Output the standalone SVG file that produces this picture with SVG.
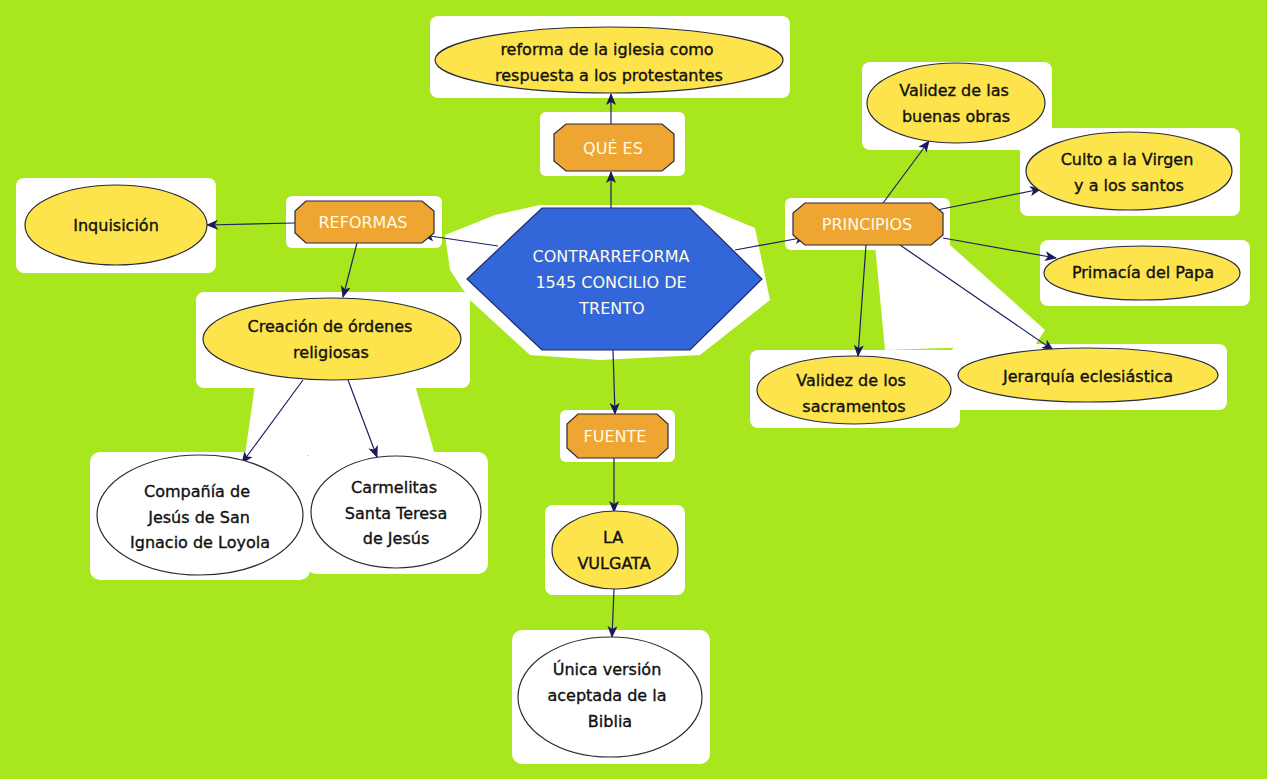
<svg xmlns="http://www.w3.org/2000/svg" width="1267" height="779" viewBox="0 0 1267 779">
<style>
.bg{fill:#a8e61e}
.halo{fill:#ffffff}
.yel{fill:#fde34c;stroke:#2a2a3a;stroke-width:1.2}
.wht{fill:#ffffff;stroke:#2a2a3a;stroke-width:1.2}
.oct{fill:#eea532;stroke:#2a2a3a;stroke-width:1.2}
.hex{fill:#3366d8;stroke:#1c2a6a;stroke-width:1.2}
.t{font-family:"DejaVu Sans",Verdana,sans-serif;font-size:16px;fill:#111;stroke:#111;stroke-width:0.35;text-anchor:middle;dominant-baseline:central}
.tw{font-family:"DejaVu Sans",Verdana,sans-serif;font-size:16px;fill:#fffbe6;text-anchor:middle;dominant-baseline:central}
.c{stroke:#1e2060;stroke-width:1.2;fill:none;marker-end:url(#ah)}
</style>
<defs>
<marker id="ah" markerWidth="12" markerHeight="10" refX="11" refY="5" orient="auto" markerUnits="userSpaceOnUse">
<path d="M0,0 L12,5 L0,10 L3,5 Z" fill="#1a1a5a"/>
</marker>
</defs>
<rect class="bg" x="0" y="0" width="1267" height="779"/>
<g id="halos">
<rect class="halo" x="430" y="16" width="360" height="82" rx="8"/>
<rect class="halo" x="540" y="112" width="145" height="64" rx="6"/>
<rect class="halo" x="16" y="178" width="200" height="95" rx="8"/>
<rect class="halo" x="286" y="196" width="156" height="52" rx="6"/>
<rect class="halo" x="196" y="292" width="274" height="96" rx="8"/>
<polygon class="halo" points="255,385 415,385 435,455 245,455"/>
<rect class="halo" x="90" y="452" width="220" height="128" rx="10"/>
<rect class="halo" x="306" y="452" width="182" height="122" rx="10"/>
<polygon class="halo" points="445,235 495,215 540,205 700,205 755,228 770,300 700,355 600,360 530,355 470,300 450,270"/>
<rect class="halo" x="560" y="410" width="115" height="52" rx="6"/>
<rect class="halo" x="545" y="505" width="140" height="90" rx="8"/>
<rect class="halo" x="512" y="630" width="198" height="134" rx="10"/>
<rect class="halo" x="785" y="198" width="165" height="52" rx="6"/>
<polygon class="halo" points="875,245 950,245 1045,330 1035,345 885,350"/>
<rect class="halo" x="862" y="62" width="190" height="88" rx="8"/>
<rect class="halo" x="1020" y="128" width="220" height="88" rx="8"/>
<rect class="halo" x="1040" y="240" width="210" height="66" rx="8"/>
<rect class="halo" x="750" y="350" width="210" height="78" rx="8"/>
<rect class="halo" x="952" y="344" width="275" height="66" rx="8"/>
</g>
<g id="connectors">
<line class="c" x1="611" y1="124" x2="611" y2="94"/>
<line class="c" x1="611" y1="208" x2="611" y2="172"/>
<line class="c" x1="295" y1="223" x2="207" y2="225"/>
<line class="c" x1="498" y1="246" x2="423" y2="235"/>
<line class="c" x1="357" y1="243" x2="343" y2="297"/>
<line class="c" x1="303" y1="380" x2="242" y2="463"/>
<line class="c" x1="348" y1="380" x2="377" y2="457"/>
<line class="c" x1="613" y1="350" x2="615" y2="414"/>
<line class="c" x1="614" y1="458" x2="614" y2="512"/>
<line class="c" x1="614" y1="589" x2="612" y2="637"/>
<line class="c" x1="735" y1="250" x2="806" y2="237"/>
<line class="c" x1="883" y1="203" x2="929" y2="141"/>
<line class="c" x1="937" y1="210" x2="1041" y2="189"/>
<line class="c" x1="943" y1="238" x2="1056" y2="258"/>
<line class="c" x1="866" y1="245" x2="858" y2="356"/>
<line class="c" x1="900" y1="245" x2="1053" y2="350"/>
</g>
<g id="n-reforma-iglesia">
<ellipse class="yel" cx="609" cy="60" rx="174" ry="33"/>
<text class="t" x="607" y="49">reforma de la iglesia como</text>
<text class="t" x="609" y="75">respuesta a los protestantes</text>
</g>
<g id="n-que-es">
<polygon class="oct" points="566,124 662,124 674,134 674,161 662,171 566,171 554,161 554,134"/>
<text class="tw" x="613" y="148">QUÉ ES</text>
</g>
<g id="n-contrarreforma">
<polygon class="hex" points="542,208 690,208 762,279 690,350 542,350 467,279"/>
<text class="tw" x="611" y="256">CONTRARREFORMA</text>
<text class="tw" x="611" y="282">1545 CONCILIO DE</text>
<text class="tw" x="612" y="308">TRENTO</text>
</g>
<g id="n-reformas">
<polygon class="oct" points="306,201 422,201 434,211 434,233 422,243 306,243 295,233 295,211"/>
<text class="tw" x="363" y="222">REFORMAS</text>
</g>
<g id="n-inquisicion">
<ellipse class="yel" cx="116" cy="225" rx="91" ry="40"/>
<text class="t" x="116" y="225">Inquisición</text>
</g>
<g id="n-creacion">
<ellipse class="yel" cx="332" cy="339" rx="129" ry="41"/>
<text class="t" x="330" y="326">Creación de órdenes</text>
<text class="t" x="331" y="352">religiosas</text>
</g>
<g id="n-compania">
<ellipse class="wht" cx="200" cy="515" rx="103" ry="60"/>
<text class="t" x="197" y="491">Compañía de</text>
<text class="t" x="199" y="517">Jesús de San</text>
<text class="t" x="200" y="542">Ignacio de Loyola</text>
</g>
<g id="n-carmelitas">
<ellipse class="wht" cx="396" cy="512" rx="85" ry="56"/>
<text class="t" x="394" y="487">Carmelitas</text>
<text class="t" x="396" y="513">Santa Teresa</text>
<text class="t" x="396" y="538">de Jesús</text>
</g>
<g id="n-fuente">
<polygon class="oct" points="578,414 657,414 668,424 668,448 657,458 578,458 567,448 567,424"/>
<text class="tw" x="615" y="436">FUENTE</text>
</g>
<g id="n-vulgata">
<ellipse class="yel" cx="615" cy="550" rx="63" ry="39"/>
<text class="t" x="613" y="537">LA</text>
<text class="t" x="614" y="563">VULGATA</text>
</g>
<g id="n-unica">
<ellipse class="wht" cx="610" cy="697" rx="92" ry="60"/>
<text class="t" x="607" y="669">Única versión</text>
<text class="t" x="607" y="695">aceptada de la</text>
<text class="t" x="610" y="721">Biblia</text>
</g>
<g id="n-principios">
<polygon class="oct" points="805,203 931,203 943,213 943,235 931,245 805,245 793,235 793,213"/>
<text class="tw" x="867" y="224">PRINCIPIOS</text>
</g>
<g id="n-buenas-obras">
<ellipse class="yel" cx="956" cy="103" rx="89" ry="40"/>
<text class="t" x="954" y="90">Validez de las</text>
<text class="t" x="956" y="116">buenas obras</text>
</g>
<g id="n-culto">
<ellipse class="yel" cx="1129" cy="171" rx="103" ry="39"/>
<text class="t" x="1127" y="159">Culto a la Virgen</text>
<text class="t" x="1129" y="185">y a los santos</text>
</g>
<g id="n-primacia">
<ellipse class="yel" cx="1142" cy="273" rx="98" ry="27"/>
<text class="t" x="1143" y="272">Primacía del Papa</text>
</g>
<g id="n-sacramentos">
<ellipse class="yel" cx="854" cy="390" rx="97" ry="34"/>
<text class="t" x="851" y="380">Validez de los</text>
<text class="t" x="854" y="406">sacramentos</text>
</g>
<g id="n-jerarquia">
<ellipse class="yel" cx="1088" cy="375" rx="130" ry="27"/>
<text class="t" x="1088" y="376">Jerarquía eclesiástica</text>
</g>
</svg>
